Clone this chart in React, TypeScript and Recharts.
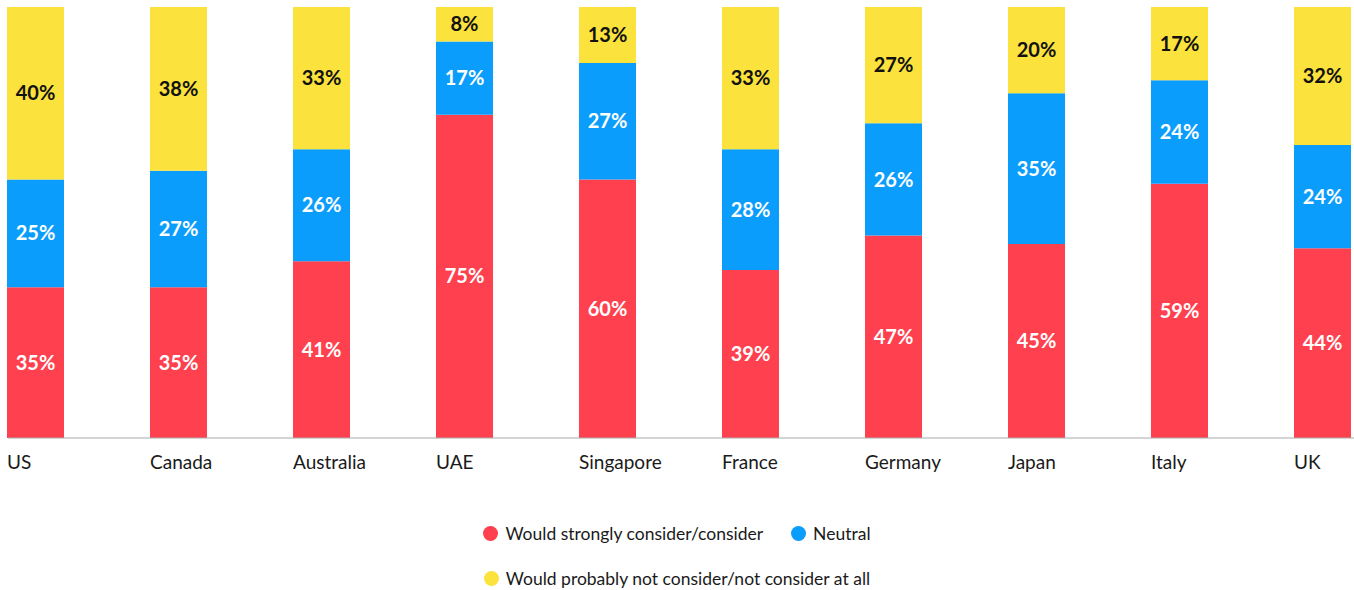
import React from "react";
import { BarChart, Bar, XAxis, YAxis, Legend, LabelList } from "recharts";

const countries = ["US", "Canada", "Australia", "UAE", "Singapore", "France", "Germany", "Japan", "Italy", "UK"];
const consider = [35, 35, 41, 75, 60, 39, 47, 45, 59, 44];
const neutral = [25, 27, 26, 17, 27, 28, 26, 35, 24, 24];
const notConsider = [40, 38, 33, 8, 13, 33, 27, 20, 17, 32];

const seriesNames = [
  "Would strongly consider/consider",
  "Neutral",
  "Would probably not consider/not consider at all",
];
const RED = "#FF404E";
const BLUE = "#0B9DFC";
const YELLOW = "#FBE23C";

const data = countries.map((c, i) => ({
  country: c,
  consider: consider[i],
  neutral: neutral[i],
  notConsider: notConsider[i],
}));

const FONT = "Lato, 'Noto Sans', sans-serif";
const BAR = 57;

const Tick = (props: any) => {
  const { x, y, payload } = props;
  return (
    <text x={x - BAR / 2} y={y + 23} textAnchor="start" fontSize={19} fill="#1a1a1a" fontFamily={FONT}>
      {payload.value}
    </text>
  );
};

const LegendContent = () => {
  const item = (color: string, label: string) => (
    <div style={{ display: "flex", alignItems: "center", gap: 7 }}>
      <span style={{ width: 15, height: 15, borderRadius: "50%", background: color, display: "inline-block" }} />
      <span>{label}</span>
    </div>
  );
  return (
    <div style={{ fontFamily: FONT, fontSize: 17.5, color: "#1a1a1a", width: 1354 }}>
      <div style={{ display: "flex", justifyContent: "center", gap: 28, height: 30, alignItems: "center" }}>
        {item(RED, seriesNames[0])}
        {item(BLUE, seriesNames[1])}
      </div>
      <div style={{ display: "flex", justifyContent: "center", marginTop: 15, height: 30, alignItems: "center" }}>
        {item(YELLOW, seriesNames[2])}
      </div>
    </div>
  );
};

const fmt = (v: any) => `${v}%`;

export default function App() {
  return (
    <div style={{ position: "absolute", left: 0, top: 0, width: 1354, height: 590, background: "#fff" }}>
      <BarChart
        width={1354}
        height={590}
        data={data}
        margin={{ top: 7, left: 8, right: 0, bottom: 122 }}
        barSize={BAR}
      >
        <XAxis
          dataKey="country"
          height={30}
          padding={{ left: -44, right: -40 }}
          axisLine={{ stroke: "#aaaaaa", strokeWidth: 1 }}
          tickLine={false}
          tick={<Tick />}
          interval={0}
        />
        <YAxis hide domain={[0, 100]} />
        <Legend
          layout="vertical"
          align="center"
          verticalAlign="middle"
          content={<LegendContent />}
          wrapperStyle={{ position: "absolute", top: 518, left: 0, width: 1354 }}
        />
        <Bar dataKey="consider" stackId="a" fill={RED} isAnimationActive={false} name={seriesNames[0]}>
          <LabelList dataKey="consider" position="center" formatter={fmt} fill="#ffffff" fontSize={20} fontWeight={700} fontFamily={FONT} />
        </Bar>
        <Bar dataKey="neutral" stackId="a" fill={BLUE} isAnimationActive={false} name={seriesNames[1]}>
          <LabelList dataKey="neutral" position="center" formatter={fmt} fill="#ffffff" fontSize={20} fontWeight={700} fontFamily={FONT} />
        </Bar>
        <Bar dataKey="notConsider" stackId="a" fill={YELLOW} isAnimationActive={false} name={seriesNames[2]}>
          <LabelList dataKey="notConsider" position="center" formatter={fmt} fill="#111111" fontSize={20} fontWeight={700} fontFamily={FONT} />
        </Bar>
      </BarChart>
    </div>
  );
}
